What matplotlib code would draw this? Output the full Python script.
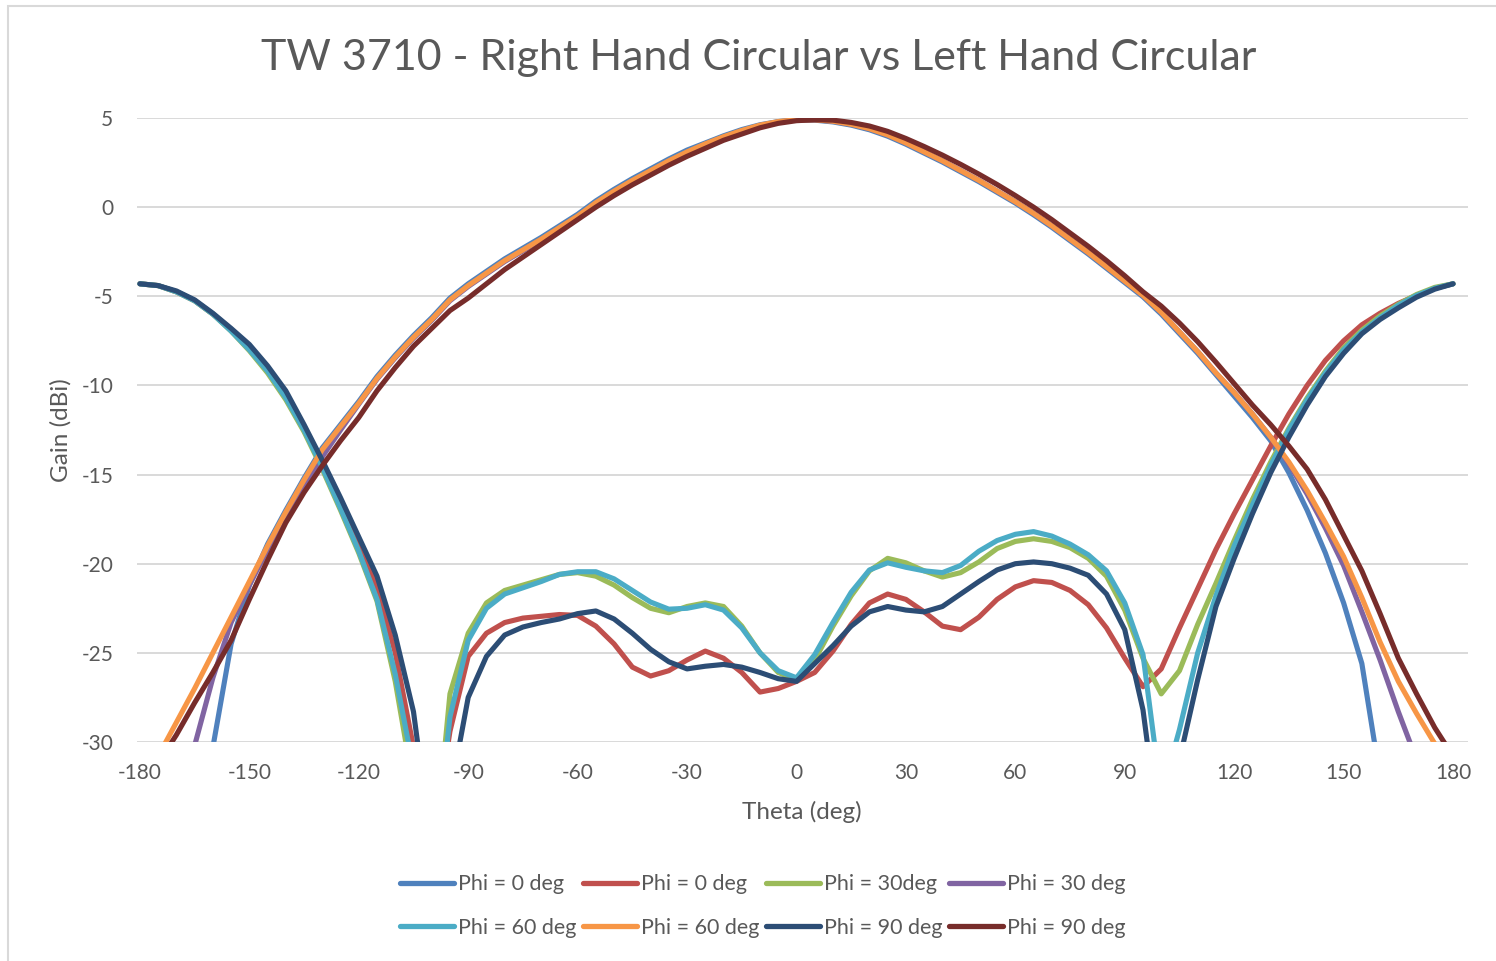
import matplotlib
matplotlib.use("Agg")
import matplotlib.pyplot as plt
from matplotlib.patches import Rectangle

# theta grid, 5 deg steps
theta = list(range(-180, 181, 5))

# RHCP (co-pol) cuts
rhcp_phi0 = [-40, -40, -40, -36, -30.3, -24.5, -21.2, -18.9, -17.0, -15.2,
             -13.5, -12.2, -10.9, -9.5, -8.3, -7.2, -6.2, -5.1, -4.3, -3.6,
             -2.9, -2.3, -1.7, -1.05, -0.4, 0.35, 1.0, 1.6, 2.15, 2.7,
             3.2, 3.6, 4.0, 4.35, 4.62, 4.8, 4.9, 4.88, 4.78, 4.6,
             4.34, 3.98, 3.53, 3.03, 2.53, 1.98, 1.43, 0.83, 0.23, -0.43,
             -1.13, -1.88, -2.63, -3.43, -4.23, -5.03, -6.0, -7.1, -8.2, -9.4,
             -10.6, -11.8, -13.1, -14.9, -17.0, -19.4, -22.2, -25.6, -32, -38,
             -40, -40, -40]
rhcp_phi30 = [-36, -34.5, -32.5, -30.2, -26.4, -23.3, -21.2, -19.2, -17.4, -15.7,
              -14.0, -12.5, -11.05, -9.65, -8.45, -7.35, -6.35, -5.25, -4.45, -3.75,
              -3.05, -2.45, -1.85, -1.2, -0.55, 0.2, 0.85, 1.45, 2.0, 2.55,
              3.05, 3.5, 3.9, 4.27, 4.57, 4.78, 4.89, 4.9, 4.82, 4.65,
              4.4, 4.05, 3.6, 3.1, 2.6, 2.05, 1.5, 0.9, 0.3, -0.35,
              -1.05, -1.8, -2.55, -3.35, -4.15, -4.95, -5.9, -7.0, -8.1, -9.3,
              -10.4, -11.6, -12.9, -14.4, -16.1, -18.0, -20.1, -22.7, -25.4, -28.3,
              -31.0, -33.5, -35]
rhcp_phi60 = [-33, -30.8, -28.9, -27.0, -25.0, -23.0, -21.0, -19.0, -17.1, -15.3,
              -13.6, -12.3, -11.0, -9.6, -8.4, -7.3, -6.3, -5.2, -4.4, -3.7,
              -3.0, -2.4, -1.8, -1.15, -0.5, 0.25, 0.9, 1.5, 2.05, 2.6,
              3.1, 3.55, 3.95, 4.3, 4.6, 4.8, 4.9, 4.9, 4.82, 4.65,
              4.4, 4.05, 3.6, 3.1, 2.6, 2.05, 1.5, 0.9, 0.3, -0.35,
              -1.05, -1.8, -2.55, -3.35, -4.15, -4.95, -5.9, -7.0, -8.1, -9.3,
              -10.4, -11.6, -12.9, -14.3, -15.9, -17.7, -19.6, -21.9, -24.4, -26.6,
              -28.4, -30.1, -31.5]
rhcp_phi90 = [-32.5, -31.2, -29.6, -27.8, -26.1, -24.3, -22.0, -19.8, -17.7, -16.0,
              -14.5, -13.1, -11.8, -10.3, -9.0, -7.8, -6.8, -5.8, -5.1, -4.3,
              -3.5, -2.8, -2.1, -1.4, -0.7, 0.0, 0.65, 1.25, 1.8, 2.35,
              2.85, 3.3, 3.75, 4.1, 4.45, 4.7, 4.85, 4.9, 4.88, 4.75,
              4.55, 4.25, 3.85, 3.4, 2.92, 2.4, 1.85, 1.27, 0.65, 0.0,
              -0.7, -1.45, -2.2, -3.0, -3.85, -4.75, -5.55, -6.5, -7.55, -8.7,
              -9.9, -11.1, -12.2, -13.4, -14.7, -16.4, -18.4, -20.4, -22.8, -25.3,
              -27.3, -29.2, -30.8]

# LHCP (cross-pol) cuts
lhcp_phi0 = [-4.3, -4.4, -4.75, -5.25, -6.0, -6.85, -7.9, -9.2, -10.7, -12.5,
             -14.5, -16.7, -18.9, -21.3, -25.0, -30.3, -36, -29.4, -25.2, -23.9,
             -23.3, -23.05, -22.95, -22.85, -22.9, -23.5, -24.5, -25.8, -26.3, -26.0,
             -25.4, -24.9, -25.3, -26.1, -27.2, -27.0, -26.6, -26.1, -24.9, -23.4,
             -22.2, -21.7, -22.0, -22.7, -23.5, -23.7, -23.0, -22.0, -21.3, -20.95,
             -21.05, -21.5, -22.3, -23.6, -25.3, -26.9, -25.9, -23.6, -21.4, -19.2,
             -17.2, -15.3, -13.4, -11.6, -10.0, -8.6, -7.5, -6.6, -5.95, -5.4,
             -4.95, -4.55, -4.3]
lhcp_phi30 = [-4.3, -4.4, -4.75, -5.25, -6.0, -6.95, -8.05, -9.3, -10.8, -12.6,
              -14.7, -17.0, -19.4, -22.1, -26.6, -32.5, -38, -27.3, -23.9, -22.2,
              -21.5, -21.2, -20.9, -20.6, -20.5, -20.7, -21.2, -21.9, -22.5, -22.75,
              -22.4, -22.2, -22.4, -23.5, -25.0, -26.1, -26.5, -25.4, -23.5, -21.8,
              -20.4, -19.7, -19.95, -20.4, -20.75, -20.5, -19.9, -19.15, -18.75, -18.6,
              -18.75, -19.1, -19.7, -20.7, -22.6, -25.3, -27.3, -26.0, -23.4, -21.1,
              -18.7, -16.4, -14.3, -12.4, -10.7, -9.2, -7.9, -6.9, -6.1, -5.45,
              -4.9, -4.5, -4.3]
lhcp_phi60 = [-4.3, -4.4, -4.75, -5.25, -6.0, -6.95, -8.0, -9.2, -10.7, -12.5,
              -14.6, -16.9, -19.3, -22.0, -26.2, -31.5, -38, -28.6, -24.3, -22.5,
              -21.7, -21.35, -21.0, -20.6, -20.45, -20.45, -20.85, -21.5, -22.15, -22.55,
              -22.5, -22.3, -22.6, -23.6, -25.0, -26.0, -26.4, -25.1, -23.3, -21.6,
              -20.35, -19.95, -20.2, -20.4, -20.5, -20.1, -19.3, -18.7, -18.35, -18.2,
              -18.45, -18.9, -19.5, -20.4, -22.2, -25.1, -33, -29.3, -25.0, -21.8,
              -19.0, -16.7, -14.5, -12.5, -10.8, -9.3, -8.0, -7.0, -6.2, -5.5,
              -4.95, -4.55, -4.3]
lhcp_phi90 = [-4.3, -4.4, -4.7, -5.2, -5.95, -6.8, -7.7, -8.9, -10.3, -12.2,
              -14.2, -16.3, -18.5, -20.7, -24.0, -28.3, -36, -33, -27.5, -25.2,
              -24.0, -23.55, -23.3, -23.1, -22.8, -22.65, -23.1, -23.9, -24.8, -25.5,
              -25.9, -25.75, -25.65, -25.8, -26.1, -26.45, -26.6, -25.6, -24.6, -23.5,
              -22.7, -22.4, -22.6, -22.7, -22.4, -21.7, -21.0, -20.35, -20.0, -19.9,
              -20.0, -20.25, -20.65, -21.7, -23.7, -28.2, -36, -31, -26.5, -22.4,
              -19.7, -17.2, -14.9, -12.9, -11.1, -9.5, -8.2, -7.1, -6.3, -5.65,
              -5.05, -4.6, -4.3]

labels = ["Phi = 0 deg", "Phi = 0 deg", "Phi = 30deg", "Phi = 30 deg",
          "Phi = 60 deg", "Phi = 60 deg", "Phi = 90 deg", "Phi = 90 deg"]
colors = ["#4F81BD", "#C0504D", "#9BBB59", "#8064A2",
          "#4BACC6", "#F79646", "#2C4D75", "#772C2A"]
values = [rhcp_phi0, lhcp_phi0, lhcp_phi30, rhcp_phi30,
          lhcp_phi60, rhcp_phi60, lhcp_phi90, rhcp_phi90]

text_color = "#595959"
plt.rcParams['font.family'] = ['Lato', 'DejaVu Sans']
plt.rcParams['axes.unicode_minus'] = False

W, H = 1496, 961
fig = plt.figure(figsize=(W / 100, H / 100), dpi=100)
ax = fig.add_axes([137 / W, 1 - 742 / H, (1468 - 137) / W, (742 - 118) / H])

handles = []
for lab, vals, col in zip(labels, values, colors):
    h, = ax.plot(theta, vals, color=col, lw=3.7, label=lab,
                 solid_capstyle='round', solid_joinstyle='round')
    handles.append(h)

ax.set_xlim(-180.8, 184.1)
ax.set_ylim(-30, 5)
ax.set_xticks(range(-180, 181, 30))
ax.set_yticks(range(-30, 6, 5))
ax.grid(axis='y', color='#D9D9D9', lw=1.4)
ax.set_axisbelow(True)
for s in ax.spines.values():
    s.set_visible(False)
ax.tick_params(length=0, colors=text_color, labelsize=15)
ax.tick_params(axis='x', pad=15)
ax.tick_params(axis='y', pad=17)

fig.text(759 / W, 1 - 58 / H, "TW 3710 - Right Hand Circular vs Left Hand Circular",
         ha='center', va='center', fontsize=31, color=text_color)
fig.text(61 / W, 1 - 430 / H, "Gain (dBi)", rotation=90, ha='center', va='center',
         fontsize=17.5, color=text_color)
fig.text(802 / W, 1 - 812 / H, "Theta (deg)", ha='center', va='center',
         fontsize=17.5, color=text_color)

# legend is filled column by column, so reorder for row-major reading
order = [0, 4, 1, 5, 2, 6, 3, 7]
leg = fig.legend([handles[i] for i in order], [labels[i] for i in order],
                 ncol=4, loc='center', bbox_to_anchor=(763 / W, 1 - 906 / H),
                 frameon=False, fontsize=15.5, handlelength=2.5, handletextpad=0.2,
                 columnspacing=0.3, labelspacing=1.1, labelcolor=text_color)
for line in leg.get_lines():
    line.set_linewidth(3.8)

fig.add_artist(Rectangle((8 / W, -0.05), 1.2, 1.05 - 6 / H, transform=fig.transFigure,
                         fill=False, edgecolor='#D9D9D9', lw=1.5))

fig.savefig("out.png", dpi=100)
